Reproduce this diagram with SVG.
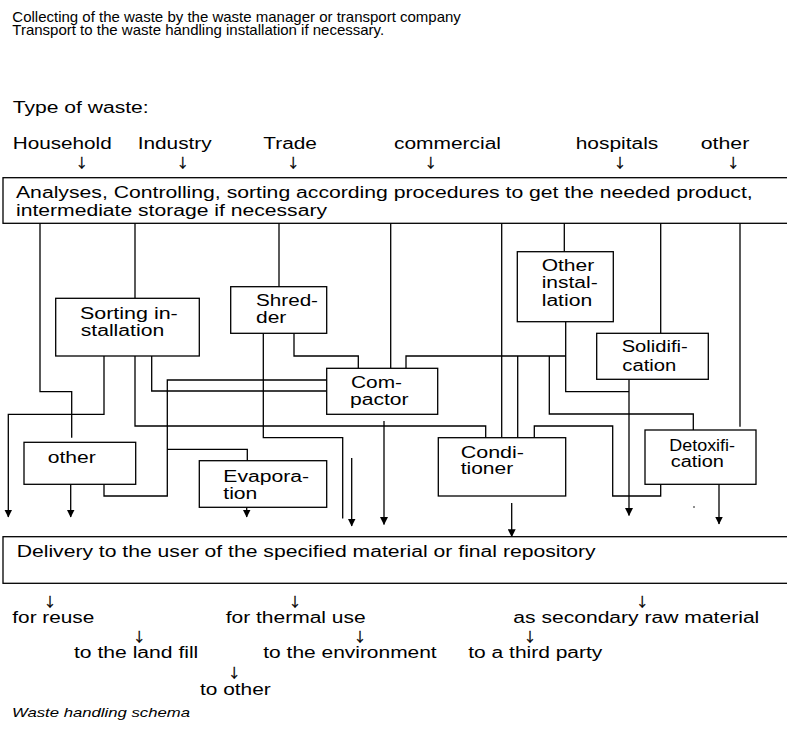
<svg xmlns="http://www.w3.org/2000/svg" width="787" height="731" viewBox="0 0 787 731">
<defs>
<marker id="ah" viewBox="0 0 8 8" refX="7.5" refY="4" markerWidth="8" markerHeight="8" markerUnits="userSpaceOnUse" orient="auto"><path d="M0,0 L8,4 L0,8 z" fill="#000"/></marker>
</defs>
<style>
text{font-family:'Liberation Sans',Arial,Helvetica,sans-serif;font-size:16px;fill:#000}
.hd{font-size:15px}
.it{font-style:italic;font-size:13px}
.ar{text-anchor:middle;font-family:'Noto Sans CJK SC','DejaVu Sans',sans-serif;font-size:13px;fill:#000;stroke:#000;stroke-width:0.35}
.box{fill:#fff;stroke:#000;stroke-width:1.3}
.ln{fill:none;stroke:#000;stroke-width:1.3}
.a{marker-end:url(#ah)}
</style>
<rect width="787" height="731" fill="#fff"/>

<g id="header">
<text class="hd" x="12.3" y="21.5">Collecting of the waste by the waste manager or transport company</text>
<text class="hd" x="12.3" y="35">Transport to the waste handling installation if necessary.</text>
<text x="12.7" y="113.3" textLength="136" lengthAdjust="spacingAndGlyphs">Type of waste:</text>
</g>

<g id="waste-types">
<text x="12.7" y="148.7" textLength="99" lengthAdjust="spacingAndGlyphs">Household</text>
<text x="137.7" y="148.7" textLength="74" lengthAdjust="spacingAndGlyphs">Industry</text>
<text x="263.3" y="148.7" textLength="53.5" lengthAdjust="spacingAndGlyphs">Trade</text>
<text x="394" y="148.7" textLength="107" lengthAdjust="spacingAndGlyphs">commercial</text>
<text x="575.7" y="148.7" textLength="82.6" lengthAdjust="spacingAndGlyphs">hospitals</text>
<text x="700.7" y="148.7" textLength="48.6" lengthAdjust="spacingAndGlyphs">other</text>
<text class="ar" x="81.7" y="167">↓</text>
<text class="ar" x="182.7" y="167">↓</text>
<text class="ar" x="293.3" y="167">↓</text>
<text class="ar" x="430.7" y="167">↓</text>
<text class="ar" x="620" y="167">↓</text>
<text class="ar" x="733.3" y="167">↓</text>
</g>

<g id="analyses">
<rect class="box" x="3" y="177.7" width="790" height="45.6"/>
<text x="16" y="197.7" textLength="736.7" lengthAdjust="spacingAndGlyphs">Analyses, Controlling, sorting according procedures to get the needed product,</text>
<text x="16" y="216" textLength="311" lengthAdjust="spacingAndGlyphs">intermediate storage if necessary</text>
</g>

<g id="connectors" class="ln">
<path d="M40,223.3 V391.7 H71.7 V437.7"/>
<path d="M135,223.3 V298.3"/>
<path d="M279,223.3 V286.7"/>
<path d="M390.7,223.3 V368.3"/>
<path d="M501.7,223.3 V437.7"/>
<path d="M564.3,223.3 V251.7"/>
<path d="M660.7,223.3 V333.3"/>
<path d="M740,223.3 V426.7"/>
<path class="a" d="M104,356 V414.3 H8.3 V517"/>
<path d="M135,356 V426 H485.7 V437.7"/>
<path d="M151.7,356 V391 H326.7"/>
<path d="M326.7,380 H167.3 V496 H104 V484.3"/>
<path d="M167.3,449.3 H247.3 V460.7"/>
<path class="a" d="M70.7,484.3 V517"/>
<path class="a" d="M246.7,507.3 V517"/>
<path d="M263.3,333.3 V437.7 H342.7 V518.5"/>
<path d="M294,333.3 V356 H358.3 V368.3"/>
<path class="a" d="M351.7,458 V526"/>
<path class="a" d="M384,421 V524.5"/>
<path d="M406,368.3 V356 H565.7"/>
<path d="M565.7,321.7 V391.7 H629"/>
<path class="a" d="M629,379.3 V515.5"/>
<path d="M517.7,356 V437.7"/>
<path d="M549.3,356 V414 H693.3 V430"/>
<path d="M534.3,437.7 V426 H612.7 V496 H660.7 V484.3"/>
<path class="a" d="M719,484.3 V524"/>
<path class="a" d="M511.7,503 V536.7"/>
</g>
<circle cx="694" cy="507" r="0.8" fill="#000"/>

<g id="sorting">
<rect class="box" x="55.7" y="298.3" width="143.6" height="57.7"/>
<text x="80" y="319.3" textLength="97.7" lengthAdjust="spacingAndGlyphs">Sorting in-</text>
<text x="80.7" y="335.7" textLength="83.5" lengthAdjust="spacingAndGlyphs">stallation</text>
</g>

<g id="shredder">
<rect class="box" x="230.7" y="286.7" width="96" height="46.6"/>
<text x="256" y="305.7" textLength="62" lengthAdjust="spacingAndGlyphs">Shred-</text>
<text x="256" y="323.3" textLength="30.3" lengthAdjust="spacingAndGlyphs">der</text>
</g>

<g id="compactor">
<rect class="box" x="326.7" y="368.3" width="111" height="46"/>
<text x="351" y="388.3" textLength="51" lengthAdjust="spacingAndGlyphs">Com-</text>
<text x="350" y="405" textLength="58.5" lengthAdjust="spacingAndGlyphs">pactor</text>
</g>

<g id="other-box">
<rect class="box" x="24" y="442.3" width="111.7" height="42"/>
<text x="47.7" y="462.7" textLength="48" lengthAdjust="spacingAndGlyphs">other</text>
</g>

<g id="evaporation">
<rect class="box" x="199.3" y="460.7" width="127.4" height="46.6"/>
<text x="223.3" y="481.7" textLength="85.7" lengthAdjust="spacingAndGlyphs">Evapora-</text>
<text x="223.3" y="499.3" textLength="34" lengthAdjust="spacingAndGlyphs">tion</text>
</g>

<g id="other-installation">
<rect class="box" x="517.3" y="251.7" width="96" height="70"/>
<text x="541.7" y="271" textLength="52.5" lengthAdjust="spacingAndGlyphs">Other</text>
<text x="541.7" y="288.3" textLength="56" lengthAdjust="spacingAndGlyphs">instal-</text>
<text x="541.7" y="306" textLength="50.5" lengthAdjust="spacingAndGlyphs">lation</text>
</g>

<g id="solidification">
<rect class="box" x="596.7" y="333.3" width="111.6" height="46"/>
<text x="621.7" y="352.3" textLength="66" lengthAdjust="spacingAndGlyphs">Solidifi-</text>
<text x="622.3" y="370.7" textLength="54" lengthAdjust="spacingAndGlyphs">cation</text>
</g>

<g id="conditioner">
<rect class="box" x="438.3" y="437.7" width="127.4" height="58.3"/>
<text x="460.7" y="457.7" textLength="63.3" lengthAdjust="spacingAndGlyphs">Condi-</text>
<text x="460.7" y="474" textLength="52.5" lengthAdjust="spacingAndGlyphs">tioner</text>
</g>

<g id="detoxification">
<rect class="box" x="645" y="430" width="111" height="54.3"/>
<text x="669.3" y="451" textLength="65.7" lengthAdjust="spacingAndGlyphs">Detoxifi-</text>
<text x="670.7" y="467.3" textLength="53.3" lengthAdjust="spacingAndGlyphs">cation</text>
</g>

<g id="delivery">
<rect class="box" x="3" y="536.7" width="790" height="46.6"/>
<text x="16.7" y="556.7" textLength="579" lengthAdjust="spacingAndGlyphs">Delivery to the user of the specified material or final repository</text>
</g>

<g id="outcomes">
<text class="ar" x="50" y="606">↓</text>
<text x="12.3" y="622.7" textLength="82" lengthAdjust="spacingAndGlyphs">for reuse</text>
<text class="ar" x="295" y="606">↓</text>
<text x="225.7" y="622.7" textLength="140" lengthAdjust="spacingAndGlyphs">for thermal use</text>
<text class="ar" x="642.3" y="606">↓</text>
<text x="513.3" y="622.7" textLength="246" lengthAdjust="spacingAndGlyphs">as secondary raw material</text>
<text class="ar" x="139.3" y="641">↓</text>
<text x="74" y="658.3" textLength="124.3" lengthAdjust="spacingAndGlyphs">to the land fill</text>
<text class="ar" x="360" y="641">↓</text>
<text x="263.3" y="658.3" textLength="173.4" lengthAdjust="spacingAndGlyphs">to the environment</text>
<text class="ar" x="530" y="641">↓</text>
<text x="468.3" y="658.3" textLength="134" lengthAdjust="spacingAndGlyphs">to a third party</text>
<text class="ar" x="234.3" y="677">↓</text>
<text x="200" y="695" textLength="70.7" lengthAdjust="spacingAndGlyphs">to other</text>
</g>

<g id="caption">
<text class="it" x="12" y="717" textLength="178" lengthAdjust="spacingAndGlyphs">Waste handling schema</text>
</g>
</svg>
